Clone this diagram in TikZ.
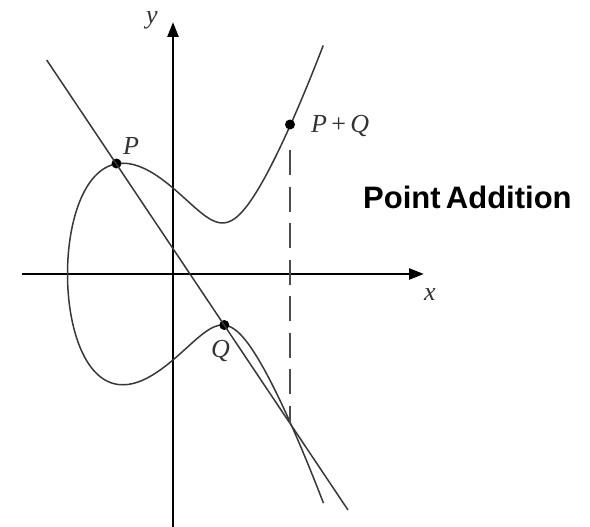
\documentclass[tikz,border=0pt]{standalone}
\usepackage{fontspec}
\setmainfont{Liberation Serif}
\newfontfamily\labelsans{Liberation Sans}
\usetikzlibrary{arrows.meta}
\begin{document}
\begin{tikzpicture}[x=1pt,y=-1pt,
  axis/.style={line width=2.6pt, black, -{Triangle[length=15pt,width=11pt]}},
  curveline/.style={line width=1.5pt, black!78},
  dashline/.style={line width=1.5pt, black!70, dash pattern=on 25pt off 11.5pt},
  dot/.style={circle, fill=black, inner sep=0pt, minimum size=10pt},
  lbl/.style={font=\fontsize{26}{30}\selectfont\itshape, text=black!80, inner sep=0pt, anchor=base west},
  title/.style={font=\labelsans\bfseries\fontsize{31}{36}\selectfont, inner sep=0pt, anchor=base west}
]
\useasboundingbox (0,0) rectangle (590,527);
% axes
\coordinate (xs) at (22,274);
\coordinate (xe) at (424,274);
\coordinate (ys) at (173,527);
\coordinate (ye) at (173,22);
\draw[axis] (xs) -- (xe);
\draw[axis] (ys) -- (ye);
% elliptic curve
\draw[curveline] plot[domain=-4:4, samples=241, smooth]
  ({67.5+16*(\x)*(\x)}, {274-4*(\x)*sqrt(5.0028*((\x)*(\x)*(\x)*(\x)-19.721*(\x)*(\x)+100.555))});
% points
\node[dot] (P) at (116.5,163.5) {};
\node[dot] (Q) at (224.3,325) {};
\node[dot] (PQ) at (290,124.5) {};
\coordinate (R) at (290,423.5);
% secant line
\coordinate (L1) at (46.7,60);
\coordinate (L2) at (348,510);
\draw[curveline] (L1) -- (L2);
% dashed vertical
\coordinate (D1) at (290,150);
\draw[dashline] (D1) -- (R);
% labels
\node[lbl] (Pl) at (123,154) {P};
\node[lbl] (Ql) at (211,357) {Q};
\node[lbl] (PQl) at (311,133) {P\,{\upshape +}\,Q};
\node[lbl] (xl) at (424,300) {x};
\node[lbl] (yl) at (146,24) {y};
\node[title] (tl) at (363,208) {\spaceskip=0.17em\relax Point Addition};
\end{tikzpicture}
\end{document}
